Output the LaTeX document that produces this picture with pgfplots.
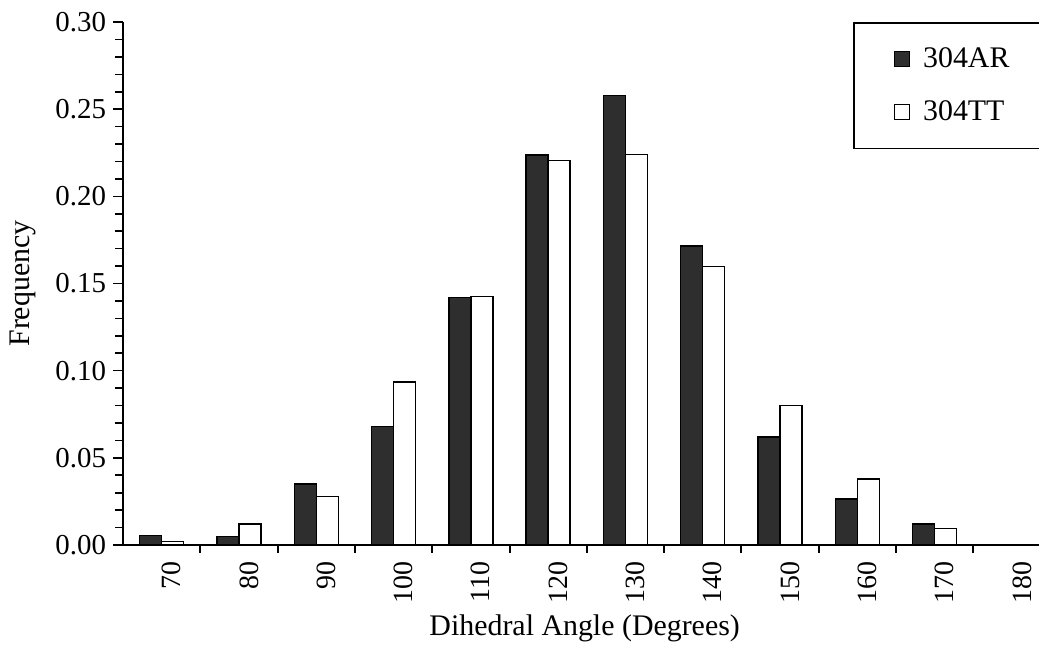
\documentclass[border=0pt]{standalone}
\usepackage{pgfplots}
\pgfplotsset{compat=1.18}
\usepackage{fontspec}
\setmainfont{Liberation Serif}
\definecolor{darkbar}{HTML}{2E2E2E}
\begin{document}
\begin{tikzpicture}
\path[use as bounding box] (0,0) rectangle (519.5bp,323bp);
\begin{axis}[
  at={(61.5bp,50.5bp)}, anchor=south west,
  scale only axis, width=458bp, height=261.5bp,
  xmin=-0.5, xmax=11.35, ymin=0, ymax=0.30,
  axis lines*=left,
  axis line style={line width=1bp},
  ybar=0pt, bar width=11bp,
  xtick={0,1,2,3,4,5,6,7,8,9,10,11},
  xticklabels={70,80,90,100,110,120,130,140,150,160,170,180},
  major x tick style={draw=none},
  minor xtick={0.5,1.5,2.5,3.5,4.5,5.5,6.5,7.5,8.5,9.5,10.5},
  minor x tick style={line width=1bp},
  ytick={0,0.05,0.10,0.15,0.20,0.25,0.30},
  minor y tick num=4,
  tick align=outside,
  major tick length=5bp,
  minor tick length=4bp,
  y tick style={line width=0.8bp, black},
  x tick style={black},
  /pgf/number format/assume math mode=true,
  yticklabel style={/pgf/number format/fixed, /pgf/number format/fixed zerofill, /pgf/number format/precision=2, font=\fontsize{14.5}{16}\selectfont},
  xticklabel style={rotate=90, anchor=east, font=\fontsize{14}{16}\selectfont, yshift=-5bp},
  xlabel={Dihedral Angle (Degrees)},
  ylabel={Frequency},
  xlabel style={at={(rel axis cs:0.504,-0.159)}, anchor=center, font=\fontsize{15}{17}\selectfont},
  ylabel style={at={(rel axis cs:-0.109,0.5)}, anchor=center, font=\fontsize{15}{17}\selectfont},
  legend style={at={(rel axis cs:0.797,1)}, anchor=north west, draw=black, line width=0.8bp,
    inner xsep=20bp, inner ysep=10.5bp, row sep=11bp,
    font=\fontsize{15}{17}\selectfont},
  legend cell align=left,
  legend image code/.code={\draw[#1, line width=0.6bp] (0bp,-3.75bp) rectangle (7.5bp,3.75bp); \path (12bp,0bp);},
]
\addplot[fill=darkbar, draw=black, line width=0.7bp] coordinates {
 (0,0.0055) (1,0.005) (2,0.035) (3,0.068) (4,0.142) (5,0.2236)
 (6,0.258) (7,0.1714) (8,0.062) (9,0.0263) (10,0.012) (11,0)};
\addplot[fill=white, draw=black, line width=0.7bp] coordinates {
 (0,0.002) (1,0.012) (2,0.0278) (3,0.0935) (4,0.1427) (5,0.2207)
 (6,0.224) (7,0.1596) (8,0.080) (9,0.0378) (10,0.0096) (11,0)};
\legend{304AR\hspace{8bp},304TT\hspace{8bp}}
\end{axis}
\end{tikzpicture}
\end{document}
